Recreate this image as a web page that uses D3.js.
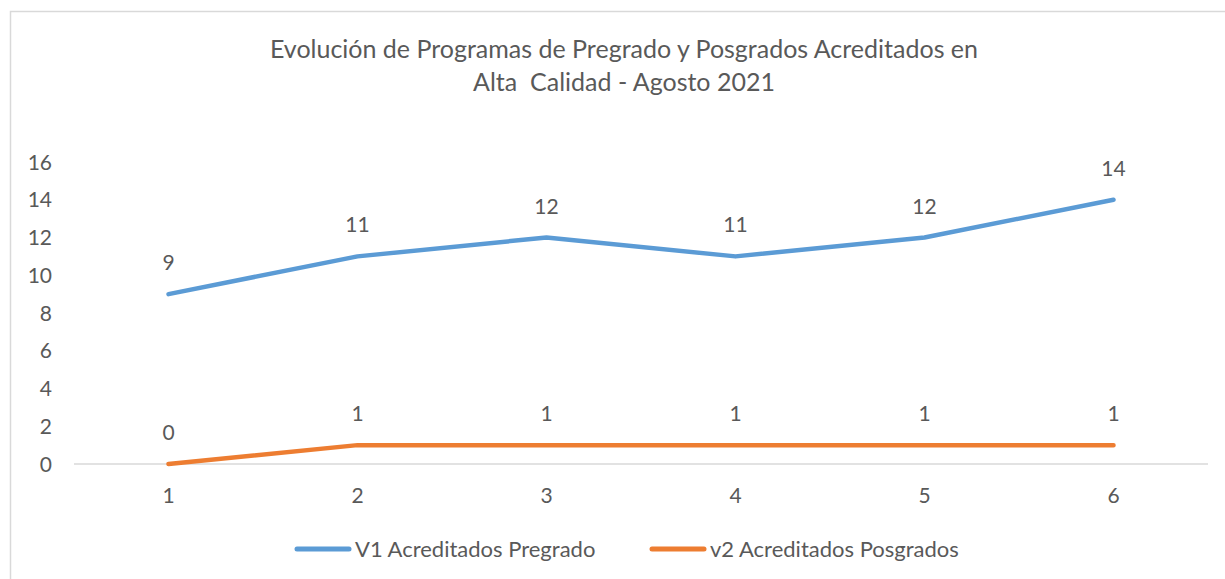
<!DOCTYPE html>
<html><head><meta charset="utf-8">
<script src="https://cdn.jsdelivr.net/npm/d3@7"></script>
<style>body{margin:0;background:#fff}svg{display:block}text{font-family:Lato,sans-serif;fill:#595959}</style>
</head><body>
<svg id="c" width="1225" height="579"></svg>
<script>
const categories = ["1","2","3","4","5","6"];
const pregrado = [9,11,12,11,12,14];
const posgrado = [0,1,1,1,1,1];
const yTicks = [0,2,4,6,8,10,12,14,16];
const seriesNames = ["V1 Acreditados Pregrado","v2 Acreditados Posgrados"];
const colors = ["#5B9BD5","#ED7D31"];
const titleLines = ["Evolución de Programas de Pregrado y Posgrados Acreditados en","Alta  Calidad - Agosto 2021"];

const svg = d3.select("#c");
svg.append("rect").attr("x",10.5).attr("y",11.5).attr("width",1230).attr("height",600)
  .attr("fill","#fff").attr("stroke","#d9d9d9").attr("stroke-width",1.5);

const x = d3.scaleBand().domain(categories).range([74,1208]);
const y = d3.scaleLinear().domain([0,16]).range([464,162]);

svg.selectAll(".title").data(titleLines).enter().append("text").attr("class","title")
  .attr("x",624).attr("y",(d,i)=>58+i*33).attr("text-anchor","middle")
  .style("font-size","25px").style("white-space","pre").text(d=>d);

svg.append("line").attr("x1",74).attr("x2",1208).attr("y1",y(0)).attr("y2",y(0))
  .attr("stroke","#d9d9d9").attr("stroke-width",1.5);

svg.selectAll(".yt").data(yTicks).enter().append("text")
  .attr("x",52).attr("y",d=>y(d)+7.5).attr("text-anchor","end")
  .style("font-size","21px").text(d=>d);

svg.selectAll(".xt").data(categories).enter().append("text")
  .attr("x",d=>x(d)+x.bandwidth()/2).attr("y",503).attr("text-anchor","middle")
  .style("font-size","21px").text(d=>d);

const line = d3.line().x((d,i)=>x(categories[i])+x.bandwidth()/2).y(d=>y(d));
[pregrado,posgrado].forEach((s,k)=>{
  svg.append("path").datum(s).attr("d",line).attr("fill","none")
    .attr("stroke",colors[k]).attr("stroke-width",4.5)
    .attr("stroke-linecap","round").attr("stroke-linejoin","round");
  svg.selectAll(".lbl"+k).data(s).enter().append("text")
    .attr("x",(d,i)=>x(categories[i])+x.bandwidth()/2).attr("y",d=>y(d)-24)
    .attr("text-anchor","middle").style("font-size","21px").text(d=>d);
});

const legX = [297,652];
seriesNames.forEach((n,k)=>{
  svg.append("line").attr("x1",legX[k]).attr("x2",legX[k]+52).attr("y1",549).attr("y2",549)
    .attr("stroke",colors[k]).attr("stroke-width",5).attr("stroke-linecap","round");
  svg.append("text").attr("x",legX[k]+58).attr("y",557).style("font-size","22px").text(n);
});
</script>
</body></html>
